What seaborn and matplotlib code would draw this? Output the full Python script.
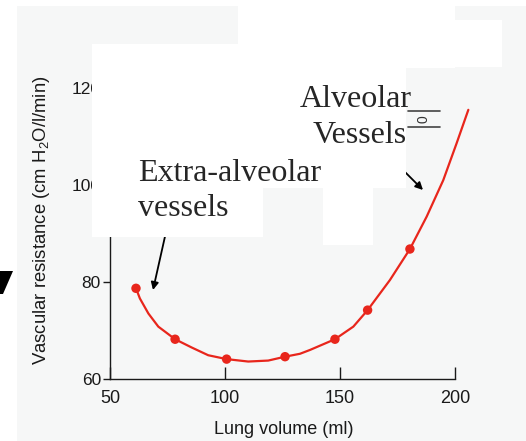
import matplotlib
matplotlib.use("Agg")
import matplotlib.pyplot as plt
import seaborn as sns
import numpy as np
import pandas as pd
from matplotlib.patches import Rectangle, Polygon
from matplotlib.lines import Line2D

# ---- data ----
volume_pts = [61.3, 78.3, 100.7, 126.1, 147.8, 162.0, 180.4]
resist_pts = [78.7, 68.2, 64.1, 64.6, 68.2, 74.2, 86.8]
curve_volume = [61.3, 63.0, 66.7, 71.0, 78.3, 85.5, 92.7, 100.7, 110.1, 118.8,
                126.1, 132.6, 137.0, 147.8, 155.8, 162.0, 171.7, 180.4, 187.7,
                194.9, 200.7, 205.8]
curve_resist = [78.7, 76.6, 73.5, 70.8, 68.2, 66.5, 64.9, 64.1, 63.6, 63.8,
                64.6, 65.2, 66.0, 68.2, 70.8, 74.2, 80.4, 86.8, 93.5,
                101.0, 108.6, 115.5]
x_ticks = [50, 100, 150, 200]
y_ticks = [60, 80, 100, 120]
x_label = "Lung volume (ml)"
y_label = "Vascular resistance (cm H$_2$O/l/min)"
label_alveolar = ["Alveolar", "Vessels"]
label_extra = ["Extra-alveolar", "vessels"]

RED = "#e8261c"
SCAN = "#f6f7f7"
INK = "#1a1a1a"
W, H = 526, 441

sns.set_style("ticks")
plt.rcParams["font.family"] = ["Liberation Sans", "DejaVu Sans"]
plt.rcParams["mathtext.fontset"] = "custom"
plt.rcParams["mathtext.rm"] = "Liberation Sans"
plt.rcParams["mathtext.it"] = "Liberation Sans:italic"


def fx(px):
    return px / W


def fy(py):
    return 1 - py / H


fig = plt.figure(figsize=(W / 100, H / 100), dpi=100, facecolor=SCAN)
ax = fig.add_axes([fx(110), fy(379), (455 - 110) / W, (379 - 88) / H])
ax.set_facecolor("none")

df_curve = pd.DataFrame({"volume": curve_volume, "resist": curve_resist})
df_pts = pd.DataFrame({"volume": volume_pts, "resist": resist_pts})

sns.lineplot(data=df_curve, x="volume", y="resist", ax=ax, color=RED, lw=1.6,
             sort=False, estimator=None)
for ln in ax.lines:
    ln.set_clip_on(False)
    ln.set_solid_joinstyle("round")
sns.scatterplot(data=df_pts, x="volume", y="resist", ax=ax, color=RED, s=46,
                edgecolor="none", zorder=3, clip_on=False)

ax.set_xlim(50, 200)
ax.set_ylim(60, 120)
ax.set_xticks(x_ticks)
ax.set_yticks(y_ticks)
ax.set_xticklabels([str(v) for v in x_ticks])
ax.set_yticklabels([str(v) for v in y_ticks])
for s in ["top", "right"]:
    ax.spines[s].set_visible(False)
for s in ["left", "bottom"]:
    ax.spines[s].set_color(INK)
    ax.spines[s].set_linewidth(1.0)
ax.tick_params(axis="x", direction="in", length=9, width=1, pad=8,
               labelsize=13, colors=INK)
ax.tick_params(axis="y", direction="out", length=5, width=1, pad=1.5,
               labelsize=12.5, colors=INK)
ax.set_xlabel(x_label, fontsize=13, color=INK)
ax.set_ylabel(y_label, fontsize=13.3, color=INK)
ax.xaxis.set_label_coords((284 - 110) / 345, (379 - 421) / 291)
ax.yaxis.set_label_coords((52 - 110) / 345, (379 - 220) / 291)

# arrows (drawn in the axes, under the white boxes)
arrow_kw = dict(arrowstyle="-|>", lw=1.3, color="black", mutation_scale=11,
                shrinkA=0, shrinkB=0)
ax.annotate("", xy=(fx(153), fy(290)), xytext=(fx(166), fy(232)),
            xycoords="figure fraction", textcoords="figure fraction",
            arrowprops=arrow_kw, annotation_clip=False)
ax.annotate("", xy=(fx(423), fy(190)), xytext=(fx(402), fy(169)),
            xycoords="figure fraction", textcoords="figure fraction",
            arrowprops=arrow_kw, annotation_clip=False)

# white boxes of the slide covering the scan
white_boxes = [
    (0, 0, 17, 441), (0, 0, 526, 6), (238, 0, 455, 68), (455, 20, 502, 67),
    (92, 44, 406, 188), (92, 188, 263, 237), (323, 188, 373, 245),
]
for x0, y0, x1, y1 in white_boxes:
    fig.patches.append(Rectangle((fx(x0), fy(y1)), (x1 - x0) / W, (y1 - y0) / H,
                                 transform=fig.transFigure, facecolor="white",
                                 edgecolor="none", zorder=5))

# stray black letter fragment at the left edge
fig.patches.append(Polygon([(fx(0), fy(271)), (fx(13), fy(271)), (fx(3), fy(294)),
                            (fx(0), fy(294))], closed=True, transform=fig.transFigure,
                           facecolor="black", edgecolor="none", zorder=6))

# small scan artefact right of the alveolar label
for yy in (111, 127):
    fig.lines.append(Line2D([fx(408), fx(440)], [fy(yy), fy(yy)], transform=fig.transFigure,
                            color="#444444", lw=1.2, zorder=6))
fig.text(fx(424), fy(119), "0", rotation=90, fontsize=10, color="#333333",
         ha="center", va="center", zorder=6)

serif = ["Liberation Serif", "DejaVu Serif"]
fig.text(fx(300), fy(107), label_alveolar[0], family=serif, fontsize=23,
         ha="left", va="baseline", zorder=7)
fig.text(fx(313), fy(143), label_alveolar[1], family=serif, fontsize=23,
         ha="left", va="baseline", zorder=7)
fig.text(fx(138), fy(181), label_extra[0], family=serif, fontsize=23,
         ha="left", va="baseline", zorder=7)
fig.text(fx(138), fy(216), label_extra[1], family=serif, fontsize=23,
         ha="left", va="baseline", zorder=7)

fig.savefig("out.png", dpi=100, facecolor=fig.get_facecolor())
